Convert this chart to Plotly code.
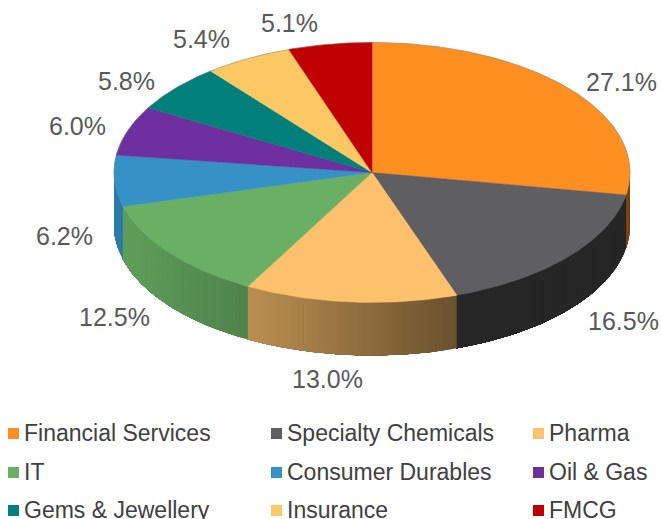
import math
import plotly.graph_objects as go

# Portfolio allocation by sector
sectors = ["Financial Services", "Specialty Chemicals", "Pharma", "IT", "Consumer Durables",
           "Oil & Gas", "Gems & Jewellery", "Insurance", "FMCG"]
weights = [27.1, 16.5, 13.0, 12.5, 6.2, 6.0, 5.8, 5.4, 5.1]

# Styling
top_colors = ["#FF8F21", "#5F5F61", "#FDC16D", "#6AB064", "#3591C6", "#6E2F9F", "#007F7B", "#FBC863", "#C00000"]
side_shade = [(0.50, 0.45), (0.40, 0.40), (0.74, 0.42), (0.90, 0.74), (0.85, 0.85),
              (0.8, 0.8), (0.8, 0.8), (0.8, 0.8), (0.8, 0.8)]
label_shift = [(52, -7), (55, 64), (-23, 77), (-55, 64), (-50, 55), (-50, -5), (-50, -7), (-46, -20), (-40, -21)]

# Disc geometry on a pixel-sized plot area
CX, CY, RX, RY, DEPTH = 372, 172.5, 258, 130, 53
W, H = 661, 519
LEGEND_COLS = [13.5, 276.5, 538.5]
LEGEND_ROWS = [433.5, 472.5, 510.5]
LEGEND_TEXT_DX, LEGEND_TEXT_DY = 10.5, 1.5


def rim(angle):
    a = math.radians(angle)
    return CX + RX * math.sin(a), CY - RY * math.cos(a)


def arc(a0, a1, step=1.0):
    n = max(2, int(abs(a1 - a0) / step) + 1)
    return [rim(a0 + (a1 - a0) * i / (n - 1)) for i in range(n)]


def shaded(color, f):
    r, g, b = (int(color[i:i + 2], 16) for i in (1, 3, 5))
    return f"rgb({r * f:.0f},{g * f:.0f},{b * f:.0f})"


total = sum(weights)
spans = []
start = 0.0
for w in weights:
    spans.append((start, start + 360 * w / total))
    start += 360 * w / total

fig = go.Figure()

# Visible wall of the disc. Each strip runs on to the slice's far end and the next
# one paints over it, which leaves a gradient without seams between the strips.
for (a0, a1), col, (fl, fr) in zip(spans, top_colors, side_shade):
    lo, hi = max(a0, 90), min(a1, 270)
    if hi <= lo:
        continue
    pts = arc(lo, hi, 1.0)
    x_span = abs(rim(lo)[0] - rim(hi)[0])
    x_min = min(rim(lo)[0], rim(hi)[0])
    order = range(len(pts) - 1) if pts[0][0] > pts[-1][0] else range(len(pts) - 2, -1, -1)
    # Paint from the right-hand end of the slice towards the left
    for i in order:
        seg = pts[i:] if pts[0][0] > pts[-1][0] else pts[:i + 2]
        t = ((pts[i][0] + pts[i + 1][0]) / 2 - x_min) / max(1, x_span)
        c = shaded(col, fl + (fr - fl) * t)
        xs = [p[0] for p in seg] + [p[0] for p in reversed(seg)]
        ys = [p[1] for p in seg] + [p[1] + DEPTH for p in reversed(seg)]
        fig.add_trace(go.Scatter(x=xs, y=ys, mode="lines", fill="toself", fillcolor=c,
                                 line=dict(width=0), hoverinfo="skip"))

# Top face of every slice
for (a0, a1), col, name in zip(spans, top_colors, sectors):
    pts = [(CX, CY)] + arc(a0, a1, 0.5) + [(CX, CY)]
    fig.add_trace(go.Scatter(
        x=[p[0] for p in pts], y=[p[1] for p in pts],
        mode="lines", fill="toself", fillcolor=col, line=dict(color=col, width=0.5),
        name=name, hoverinfo="name"))

# Hairline along the far edge of the disc
edge = arc(-95, 95, 0.5)
fig.add_trace(go.Scatter(x=[p[0] for p in edge], y=[p[1] for p in edge], mode="lines",
                         line=dict(color="rgba(120,120,120,0.55)", width=0.8), hoverinfo="skip"))

# Value labels, anchored on the rim at the middle of each slice
annotations = []
for (a0, a1), w, (dx, dy) in zip(spans, weights, label_shift):
    x, y = rim((a0 + a1) / 2)
    annotations.append(dict(x=x, y=y, xref="x", yref="y", text=f"{w:.1f}%", showarrow=False,
                            xshift=dx, yshift=-dy, xanchor="center", yanchor="middle",
                            font=dict(family="Liberation Sans", size=25, color="#595959")))

# Three-column key below the disc
key_x = [LEGEND_COLS[i % 3] for i in range(len(sectors))]
key_y = [LEGEND_ROWS[i // 3] for i in range(len(sectors))]
fig.add_trace(go.Scatter(
    x=key_x, y=key_y, mode="markers",
    marker=dict(symbol="square", size=11, color=top_colors, line=dict(width=0)),
    hoverinfo="skip", cliponaxis=False))
fig.add_trace(go.Scatter(
    x=[v + LEGEND_TEXT_DX for v in key_x], y=[v + LEGEND_TEXT_DY for v in key_y],
    mode="text", text=sectors, textposition="middle right",
    textfont=dict(family="Liberation Sans", size=23, color="#404040"),
    hoverinfo="skip", cliponaxis=False))

fig.update_layout(
    width=W, height=H, margin=dict(l=0, r=0, t=0, b=0), showlegend=False,
    paper_bgcolor="white", plot_bgcolor="white", annotations=annotations,
    xaxis=dict(range=[0, W], visible=False, fixedrange=True),
    yaxis=dict(range=[H, 0], visible=False, fixedrange=True))

fig.write_html("out.html", config=dict(displayModeBar=False))
